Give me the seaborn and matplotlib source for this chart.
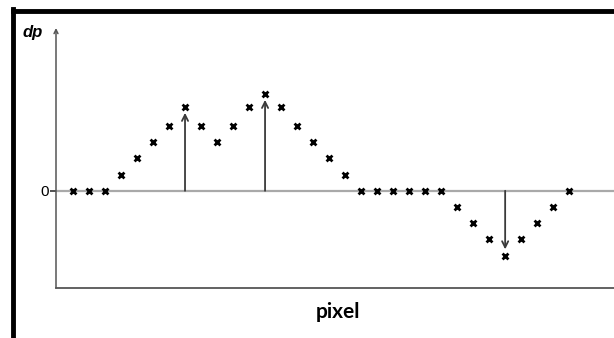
import matplotlib
matplotlib.use("Agg")
import matplotlib.pyplot as plt
from matplotlib.lines import Line2D
import seaborn as sns
import pandas as pd

# ---- data ----
pixel_index = list(range(32))
dp_values = [0, 0, 0, 1, 2, 3, 4, 5.2, 4, 3, 4, 5.2, 6, 5.2, 4, 3, 2, 1,
             0, 0, 0, 0, 0, 0, -1, -2, -3, -4, -3, -2, -1, 0]
arrow_indices = [7, 12, 27]
y_tick_values = [0]
y_tick_labels = ["0"]
x_label = "pixel"
y_label = "dp"

df = pd.DataFrame({"pixel": pixel_index, "dp": dp_values})

sns.set_style("white")

W, H = 614, 338
fig = plt.figure(figsize=(W / 100, H / 100), dpi=100)
ax_left, ax_right, ax_top, ax_bottom = 56, 614, 28, 288
ax = fig.add_axes([ax_left / W, 1 - ax_bottom / H,
                   (ax_right - ax_left) / W, (ax_bottom - ax_top) / H])

# zero line
ax.axhline(0, color="#a9a9a9", lw=1.6, zorder=1)

# arrows from zero to selected points
for i in arrow_indices:
    v = dp_values[i]
    ax.annotate("", xy=(pixel_index[i], v), xytext=(pixel_index[i], 0),
                arrowprops=dict(arrowstyle="->", color="#3a3a3a", lw=1.3,
                                shrinkA=0, shrinkB=4.5, mutation_scale=11),
                zorder=2)

sns.scatterplot(data=df, x="pixel", y="dp", marker="x", color="black",
                s=18, linewidth=2.0, ax=ax, zorder=3, legend=False)

ax.set_xlim(-1.06, 33.8)
ax.set_ylim(-6.0, 10.05)

# spines
for s in ["top", "right", "left"]:
    ax.spines[s].set_visible(False)
ax.spines["bottom"].set_color("#555555")
ax.spines["bottom"].set_linewidth(1.3)

# y axis with arrowhead
ax.annotate("", xy=(0, 1), xytext=(0, 0), xycoords="axes fraction",
            textcoords="axes fraction",
            arrowprops=dict(arrowstyle="->", color="#555555", lw=1.1,
                            shrinkA=0, shrinkB=0, mutation_scale=7))

ax.set_xticks([])
ax.set_yticks(y_tick_values)
ax.set_yticklabels(y_tick_labels, fontfamily="Liberation Sans", fontsize=11,
                   color="black")
ax.tick_params(axis="y", direction="inout", length=8, width=1.2,
               color="#333333", pad=1, left=True)
ax.set_xlabel("")
ax.set_ylabel("")

fig.text(23 / W, 1 - 33 / H, y_label, fontfamily="Liberation Sans",
         fontsize=12, fontweight="bold", fontstyle="italic",
         ha="left", va="center", color="black")
fig.text(338 / W, 1 - 312 / H, x_label, fontfamily="Lato",
         fontsize=15, fontweight="bold", ha="center", va="center",
         color="black")

# black frame (left and top)
fig.add_artist(Line2D([13 / W, 13 / W], [0, 1 - 9 / H], color="black",
                      lw=3.5, transform=fig.transFigure,
                      solid_capstyle="projecting"))
fig.add_artist(Line2D([13 / W, 1], [1 - 11 / H, 1 - 11 / H], color="black",
                      lw=3.5, transform=fig.transFigure,
                      solid_capstyle="projecting"))

fig.savefig("out.png", dpi=100)
